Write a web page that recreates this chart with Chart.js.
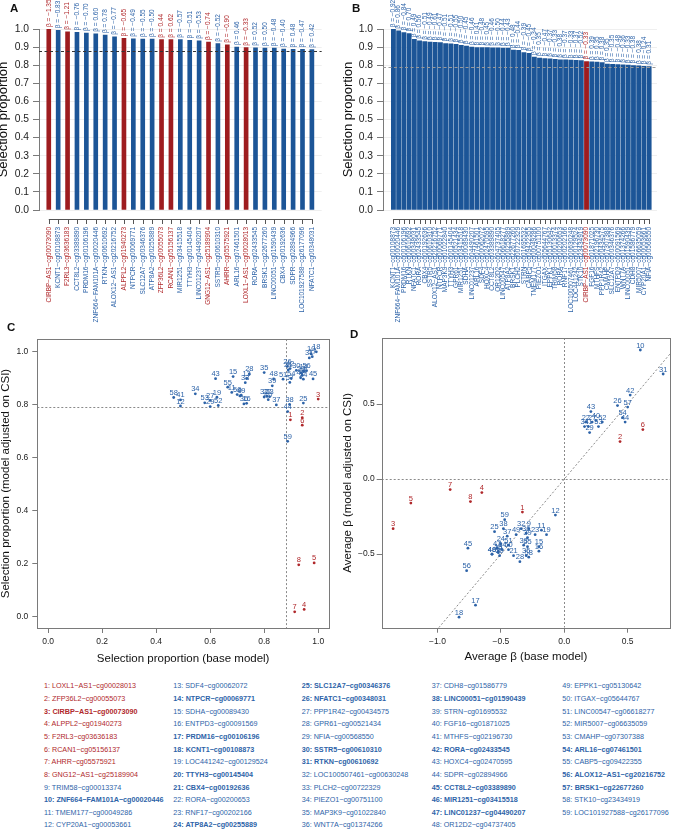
<!DOCTYPE html>
<html>
<head>
<meta charset="utf-8">
<script src="https://cdn.jsdelivr.net/npm/chart.js@4.4.0/dist/chart.umd.min.js"></script>
<style>
  body { margin: 0; background: #fff; }
  #fig { position: relative; width: 674px; height: 830px; overflow: hidden; font-family: "Liberation Sans", Arial, sans-serif; }
  canvas { position: absolute; }
  .tag { position: absolute; font-weight: bold; font-size: 11.5px; line-height: 1; color: #111; }
  .col { position: absolute; top: 680.4px; font-size: 7.2px; line-height: 12.64px; white-space: nowrap; }
  .col div.b { font-weight: bold; }
</style>
</head>
<body>
<div id="fig">
  <canvas id="chartA" width="337" height="330" style="left:0;top:0"></canvas>
  <canvas id="chartB" width="337" height="330" style="left:337px;top:0"></canvas>
  <canvas id="chartC" width="337" height="342" style="left:0;top:330px"></canvas>
  <canvas id="chartD" width="337" height="342" style="left:337px;top:330px"></canvas>
  <div class="tag" style="left:10px;top:3px">A</div>
  <div class="tag" style="left:352px;top:3px">B</div>
  <div class="tag" style="left:7px;top:322px">C</div>
  <div class="tag" style="left:350px;top:329px">D</div>
  <div id="legend"></div>
</div>
<script>
// CpG sites, numbered 1..59 as in the legend
const geneNames = [
  'LOXL1-AS1-cg00028013', 'ZFP36L2-cg00055073', 'CIRBP-AS1-cg00073090', 'ALPPL2-cg01940273',
  'F2RL3-cg03636183', 'RCAN1-cg05156137', 'AHRR-cg05575921', 'GNG12-AS1-cg25189904',
  'TRIM58-cg00013374', 'ZNF664-FAM101A-cg00020446', 'TMEM177-cg00049286', 'CYP20A1-cg00053661',
  'SDF4-cg00062072', 'NTPCR-cg00069771', 'SDHA-cg00089430', 'ENTPD3-cg00091569',
  'PRDM16-cg00106196', 'KCNT1-cg00108873', 'LOC441242-cg00129524', 'TTYH3-cg00145404',
  'CBX4-cg00192636', 'RORA-cg00200653', 'RNF17-cg00202166', 'ATP8A2-cg00255889',
  'SLC12A7-cg00346376', 'NFATC1-cg00348031', 'PPP1R42-cg00434575', 'GPR61-cg00521434',
  'NFIA-cg00568550', 'SSTR5-cg00610310', 'RTKN-cg00610692', 'LOC100507461-cg00630248',
  'PLCH2-cg00722329', 'PIEZO1-cg00751100', 'MAP3K9-cg01022840', 'WNT7A-cg01374266',
  'CDH8-cg01586779', 'LINC00051-cg01590439', 'STRN-cg01695532', 'FGF16-cg01871025',
  'MTHFS-cg02196730', 'RORA-cg02433545', 'HOXC4-cg02470595', 'SDPR-cg02894966',
  'CCT8L2-cg03389890', 'MIR1251-cg03415518', 'LINC01237-cg04490207', 'OR12D2-cg04737405',
  'EPPK1-cg05130642', 'ITGAX-cg05644767', 'LINC00547-cg06618277', 'MIR5007-cg06635059',
  'CMAHP-cg07307388', 'ARL16-cg07461501', 'CABP5-cg09422355', 'ALOX12-AS1-cg20216752',
  'BRSK1-cg22677260', 'STK10-cg23434919', 'LOC101927588-cg26177096'
];
const highlighted = [1, 2, 3, 4, 5, 6, 7, 8];

// selection proportions (base model / model adjusted on CSI)
const propBase = [
  0.897, 0.941, 1.000, 0.948, 0.985, 0.941, 0.913, 0.928, 0.710, 0.974,
  0.680, 0.490, 0.735, 0.946, 0.685, 0.735, 0.978, 0.993, 0.625, 0.937,
  0.889, 0.810, 0.820, 0.945, 0.945, 0.886, 0.600, 0.745, 0.600, 0.919,
  0.967, 0.800, 0.730, 0.545, 0.800, 0.725, 0.845, 0.894, 0.830, 0.815,
  0.490, 0.896, 0.620, 0.887, 0.981, 0.941, 0.935, 0.835, 0.715, 0.700,
  0.870, 0.630, 0.580, 0.900, 0.665, 0.957, 0.895, 0.465, 0.887
];
const propAdj = [
  0.742, 0.750, 0.820, 0.028, 0.203, 0.722, 0.019, 0.196, 0.832, 0.990,
  0.845, 0.794, 0.898, 0.925, 0.905, 0.804, 0.980, 0.998, 0.827, 0.918,
  0.930, 0.830, 0.829, 0.895, 0.805, 0.943, 0.815, 0.915, 0.792, 0.928,
  0.975, 0.828, 0.882, 0.840, 0.920, 0.802, 0.798, 0.800, 0.870, 0.818,
  0.817, 0.935, 0.897, 0.773, 0.896, 0.910, 0.900, 0.896, 0.835, 0.837,
  0.895, 0.796, 0.806, 0.898, 0.865, 0.927, 0.883, 0.826, 0.661
];

// average beta (base model / model adjusted on CSI)
const betaBase = [
  -0.33, 0.44, -1.35, -0.65, -1.21, 0.62, -0.90, -0.74, -0.28, 0.60,
  -0.18, -0.07, -0.52, -0.49, -0.20, -0.20, -0.70, -0.83, -0.14, -0.51,
  -0.40, 0.17, -0.23, -0.50, -0.55, 0.42, 0.22, -0.35, 0.20, -0.52,
  0.78, -0.34, -0.32, 0.16, -0.30, -0.30, -0.45, -0.48, -0.29, 0.25,
  0.19, 0.52, 0.21, 0.48, -0.76, -0.57, -0.53, -0.57, -0.38, -0.44,
  -0.44, 0.30, 0.27, 0.46, -0.29, -0.77, 0.50, -0.28, -0.47
];
const betaAdj = [
  -0.22, 0.25, -0.33, -0.09, -0.16, 0.33, -0.07, -0.15, -0.33, 0.86,
  -0.34, -0.24, -0.48, -0.47, -0.45, -0.48, -0.84, -0.92, -0.37, -0.51,
  -0.51, 0.38, -0.37, -0.43, -0.35, 0.49, 0.38, -0.55, 0.31, -0.49,
  0.70, -0.33, -0.44, 0.35, -0.51, -0.36, -0.38, -0.33, -0.39, 0.39,
  0.35, 0.56, 0.45, 0.38, -0.46, -0.50, -0.46, -0.50, -0.37, -0.47,
  -0.44, 0.38, 0.35, 0.41, -0.45, -0.61, 0.48, -0.52, -0.27
];

// bar order in panels A and B (site numbers)
const orderA = [3, 18, 5, 45, 17, 10, 31, 56, 4, 14, 25, 24, 2, 6, 46, 20, 47, 8, 30, 7, 54, 1, 42, 57, 38, 21, 44, 59, 26];
const orderB = [18, 10, 17, 31, 26, 42, 21, 30, 56, 14, 35, 20, 28, 46, 15, 47, 54, 13, 43, 45, 48, 51, 24, 57, 33,
                39, 55, 11, 34, 50, 49, 9, 22, 23, 32, 19, 58, 3, 40, 41, 27, 53, 25, 16, 36, 38, 37, 52, 12, 29];

const cutBase = 0.88;
const cutAdj = 0.79;
const barTicks = [0, 0.1, 0.2, 0.3, 0.4, 0.5, 0.6, 0.7, 0.8, 0.9, 1.0];
const propTicks = [0, 0.2, 0.4, 0.6, 0.8, 1.0];
const betaTicksX = [-1.0, -0.5, 0, 0.5];
const betaTicksY = [-0.5, 0, 0.5];

const FONT = '"Liberation Sans", Arial, sans-serif';
const BLUE = '#1c5597';
const RED = '#9e1c1f';
const BLUE_TXT = '#2d63a8';
const RED_TXT = '#b0282b';
const AXIS = '#7a7a7a';

function isRed(id) { return highlighted.includes(id); }
function pretty(s) { return s.replace(/-/g, '\u2212'); }
function num(v, d) { return (v < 0 ? '\u2212' : '') + Math.abs(v).toFixed(d); }

// R-style category axis under the bars: a line with a tick per bar
const barAxis = {
  id: 'barAxis',
  afterDraw(chart) {
    const { ctx, chartArea, scales: { x } } = chart;
    const n = chart.data.datasets[0].data.length;
    const y0 = chartArea.bottom + 9;
    ctx.save();
    ctx.strokeStyle = '#555';
    ctx.lineWidth = 1;
    ctx.beginPath();
    ctx.moveTo(x.getPixelForValue(1), y0 + 0.5);
    ctx.lineTo(x.getPixelForValue(n), y0 + 0.5);
    for (let i = 1; i <= n; i++) {
      const px = Math.round(x.getPixelForValue(i)) + 0.5;
      ctx.moveTo(px, y0);
      ctx.lineTo(px, y0 + 5);
    }
    ctx.stroke();
    ctx.restore();
  }
};

function makeBars(id, order, props, betas, g) {
  const betaLabels = {
    id: 'betaLabels',
    afterDatasetsDraw(chart) {
      const { ctx, scales: { x, y } } = chart;
      ctx.save();
      ctx.font = '6.5px ' + FONT;
      ctx.textAlign = 'left';
      ctx.textBaseline = 'middle';
      order.forEach((site, i) => {
        ctx.save();
        ctx.translate(x.getPixelForValue(i + 1), y.getPixelForValue(props[site - 1]) - 2);
        ctx.rotate(-Math.PI / 2);
        ctx.fillStyle = isRed(site) ? RED_TXT : BLUE_TXT;
        ctx.fillText('\u03b2 = ' + num(betas[site - 1], 2), 0, 0);
        ctx.restore();
      });
      ctx.restore();
    }
  };
  const cutLine = {
    id: 'cutLine',
    afterDatasetsDraw(chart) {
      const { ctx, chartArea, scales: { y } } = chart;
      const py = Math.round(y.getPixelForValue(g.cut)) + 0.5;
      ctx.save();
      ctx.strokeStyle = g.cutColor;
      ctx.setLineDash([3, 2.5]);
      ctx.beginPath();
      ctx.moveTo(chartArea.left, py);
      ctx.lineTo(chartArea.right, py);
      ctx.stroke();
      ctx.restore();
    }
  };

  return new Chart(document.getElementById(id), {
    type: 'bar',
    data: {
      datasets: [{
        data: order.map((site, i) => ({ x: i + 1, y: props[site - 1] })),
        backgroundColor: order.map(site => isRed(site) ? RED : BLUE),
        barThickness: g.bar,
        borderWidth: 0
      }]
    },
    options: {
      responsive: false,
      animation: false,
      layout: { padding: { top: 29, right: g.padRight, left: 0, bottom: 0 } },
      plugins: { legend: { display: false }, tooltip: { enabled: false } },
      scales: {
        x: {
          type: 'linear', min: g.xmin, max: g.xmax, offset: false,
          afterFit: s => { s.height = 120; },
          afterBuildTicks: s => { s.ticks = order.map((site, i) => ({ value: i + 1 })); },
          grid: { display: false, drawTicks: false, offset: false },
          border: { display: false },
          ticks: {
            autoSkip: false, minRotation: 90, maxRotation: 90, padding: 17,
            font: { size: 6.5, family: FONT },
            color: c => isRed(order[c.index]) ? RED_TXT : BLUE_TXT,
            callback: (v, i) => pretty(geneNames[order[i] - 1])
          }
        },
        y: {
          min: 0, max: 1,
          afterFit: s => { s.width = g.axisW; },
          afterBuildTicks: s => { s.ticks = barTicks.map(v => ({ value: v })); },
          grid: { color: '#efefef', tickColor: AXIS, tickLength: 6 },
          border: { color: AXIS },
          ticks: { padding: 4, color: '#222', font: { size: 10.3, family: FONT }, callback: v => v.toFixed(1) },
          title: {
            display: true, text: 'Selection proportion', color: '#111',
            font: { size: 13, family: FONT, lineHeight: 1 },
            padding: { top: g.titlePad, bottom: 0 }
          }
        }
      }
    },
    plugins: [betaLabels, cutLine, barAxis]
  });
}

makeBars('chartA', orderA, propBase, betaBase,
  { bar: 4, xmin: -0.04, xmax: 30.04, padRight: 9, axisW: 39, titlePad: -3, cut: cutBase, cutColor: '#333' });
makeBars('chartB', orderB, propAdj, betaAdj,
  { bar: 4.2, xmin: -1.0, xmax: 51.5, padRight: 2, axisW: 46, titlePad: 5, cut: cutAdj, cutColor: '#999' });

// scatter panels
const siteIds = geneNames.map((n, i) => i + 1);

function makeScatter(id, xs, ys, g) {
  const pointLabels = {
    id: 'pointLabels',
    afterDatasetsDraw(chart) {
      const { ctx } = chart;
      const meta = chart.getDatasetMeta(0);
      ctx.save();
      ctx.font = '7.5px ' + FONT;
      ctx.textAlign = 'center';
      ctx.textBaseline = 'alphabetic';
      meta.data.forEach((pt, i) => {
        ctx.fillStyle = isRed(siteIds[i]) ? RED_TXT : BLUE_TXT;
        ctx.fillText(String(siteIds[i]), pt.x, pt.y - 2.5);
      });
      ctx.restore();
    }
  };
  const frame = {
    id: 'frame',
    beforeDatasetsDraw(chart) {
      const { ctx, chartArea: a, scales: { x, y } } = chart;
      ctx.save();
      ctx.beginPath();
      ctx.rect(a.left, a.top, a.right - a.left, a.bottom - a.top);
      ctx.clip();
      ctx.strokeStyle = '#8a8a8a';
      ctx.lineWidth = 1;
      ctx.setLineDash([2, 2]);
      ctx.beginPath();
      const vx = Math.round(x.getPixelForValue(g.vline)) + 0.5;
      const hy = Math.round(y.getPixelForValue(g.hline)) + 0.5;
      ctx.moveTo(vx, a.top); ctx.lineTo(vx, a.bottom);
      ctx.moveTo(a.left, hy); ctx.lineTo(a.right, hy);
      if (g.diagonal) {
        const lo = Math.max(x.min, y.min), hi = Math.min(x.max, y.max);
        ctx.moveTo(x.getPixelForValue(lo), y.getPixelForValue(lo));
        ctx.lineTo(x.getPixelForValue(hi), y.getPixelForValue(hi));
      }
      ctx.stroke();
      ctx.restore();
      ctx.save();
      ctx.strokeStyle = AXIS;
      ctx.strokeRect(Math.round(a.left) + 0.5, Math.round(a.top) + 0.5,
        Math.round(a.right - a.left), Math.round(a.bottom - a.top));
      ctx.restore();
    }
  };

  return new Chart(document.getElementById(id), {
    type: 'scatter',
    data: {
      datasets: [{
        data: siteIds.map(s => ({ x: xs[s - 1], y: ys[s - 1] })),
        pointRadius: 1.4,
        pointBorderWidth: 0,
        pointBackgroundColor: siteIds.map(s => isRed(s) ? RED_TXT : BLUE_TXT)
      }]
    },
    options: {
      responsive: false,
      animation: false,
      layout: { padding: { top: g.padTop, right: g.padRight, left: 0, bottom: 0 } },
      plugins: { legend: { display: false }, tooltip: { enabled: false } },
      scales: {
        x: {
          type: 'linear', min: g.xmin, max: g.xmax,
          afterFit: s => { s.height = g.xH; },
          afterBuildTicks: s => { s.ticks = g.xticks.map(v => ({ value: v })); },
          grid: { drawOnChartArea: false, tickColor: AXIS, tickLength: 5 },
          border: { display: false },
          ticks: { padding: 4, color: '#222', font: { size: 8.5, family: FONT }, callback: v => num(v, 1) },
          title: {
            display: true, text: g.xTitle, color: '#111',
            font: { size: 11.5, family: FONT, lineHeight: 1 },
            padding: { top: 0, bottom: g.xTitlePad }
          }
        },
        y: {
          type: 'linear', min: g.ymin, max: g.ymax,
          afterFit: s => { s.width = g.yW; },
          afterBuildTicks: s => { s.ticks = g.yticks.map(v => ({ value: v })); },
          grid: { drawOnChartArea: false, tickColor: AXIS, tickLength: 5 },
          border: { display: false },
          ticks: { padding: g.yTickPad, color: '#222', font: { size: 8.5, family: FONT }, callback: v => num(v, 1) },
          title: {
            display: true, text: g.yTitle, color: '#111',
            font: { size: 11.5, family: FONT, lineHeight: 1 },
            padding: { top: g.yTitlePad, bottom: 0 }
          }
        }
      }
    },
    plugins: [frame, pointLabels]
  });
}

makeScatter('chartC', propBase, propAdj, {
  xmin: -0.04, xmax: 1.04, ymin: -0.042, ymax: 1.046, xticks: propTicks, yticks: propTicks,
  padTop: 7, padRight: 8, xH: 44, yW: 37.3, xTitlePad: 7, yTitlePad: 0, yTickPad: 4,
  vline: cutBase, hline: cutAdj, diagonal: false,
  xTitle: 'Selection proportion (base model)',
  yTitle: 'Selection proportion (model adjusted on CSI)'
});
makeScatter('chartD', betaBase, betaAdj, {
  xmin: -1.44, xmax: 0.834, ymin: -0.99, ymax: 0.94, xticks: betaTicksX, yticks: betaTicksY,
  padTop: 8, padRight: 4, xH: 44.3, yW: 44.7, xTitlePad: 9, yTitlePad: 4.75, yTickPad: 2,
  vline: 0, hline: 0, diagonal: true,
  xTitle: 'Average \u03b2 (base model)',
  yTitle: 'Average \u03b2 (model adjusted on CSI)'
});

// numbered legend, 5 columns of 12
const colLeft = [44, 173.3, 301.7, 431.7, 562.3];
const legend = document.getElementById('legend');
colLeft.forEach((left, c) => {
  const col = document.createElement('div');
  col.className = 'col';
  col.style.left = left + 'px';
  siteIds.slice(c * 12, c * 12 + 12).forEach(s => {
    const row = document.createElement('div');
    row.textContent = s + ': ' + pretty(geneNames[s - 1]);
    row.style.color = isRed(s) ? RED_TXT : BLUE_TXT;
    if (orderA.includes(s) && orderB.includes(s)) row.className = 'b';
    col.appendChild(row);
  });
  legend.appendChild(col);
});
</script>
</body>
</html>
